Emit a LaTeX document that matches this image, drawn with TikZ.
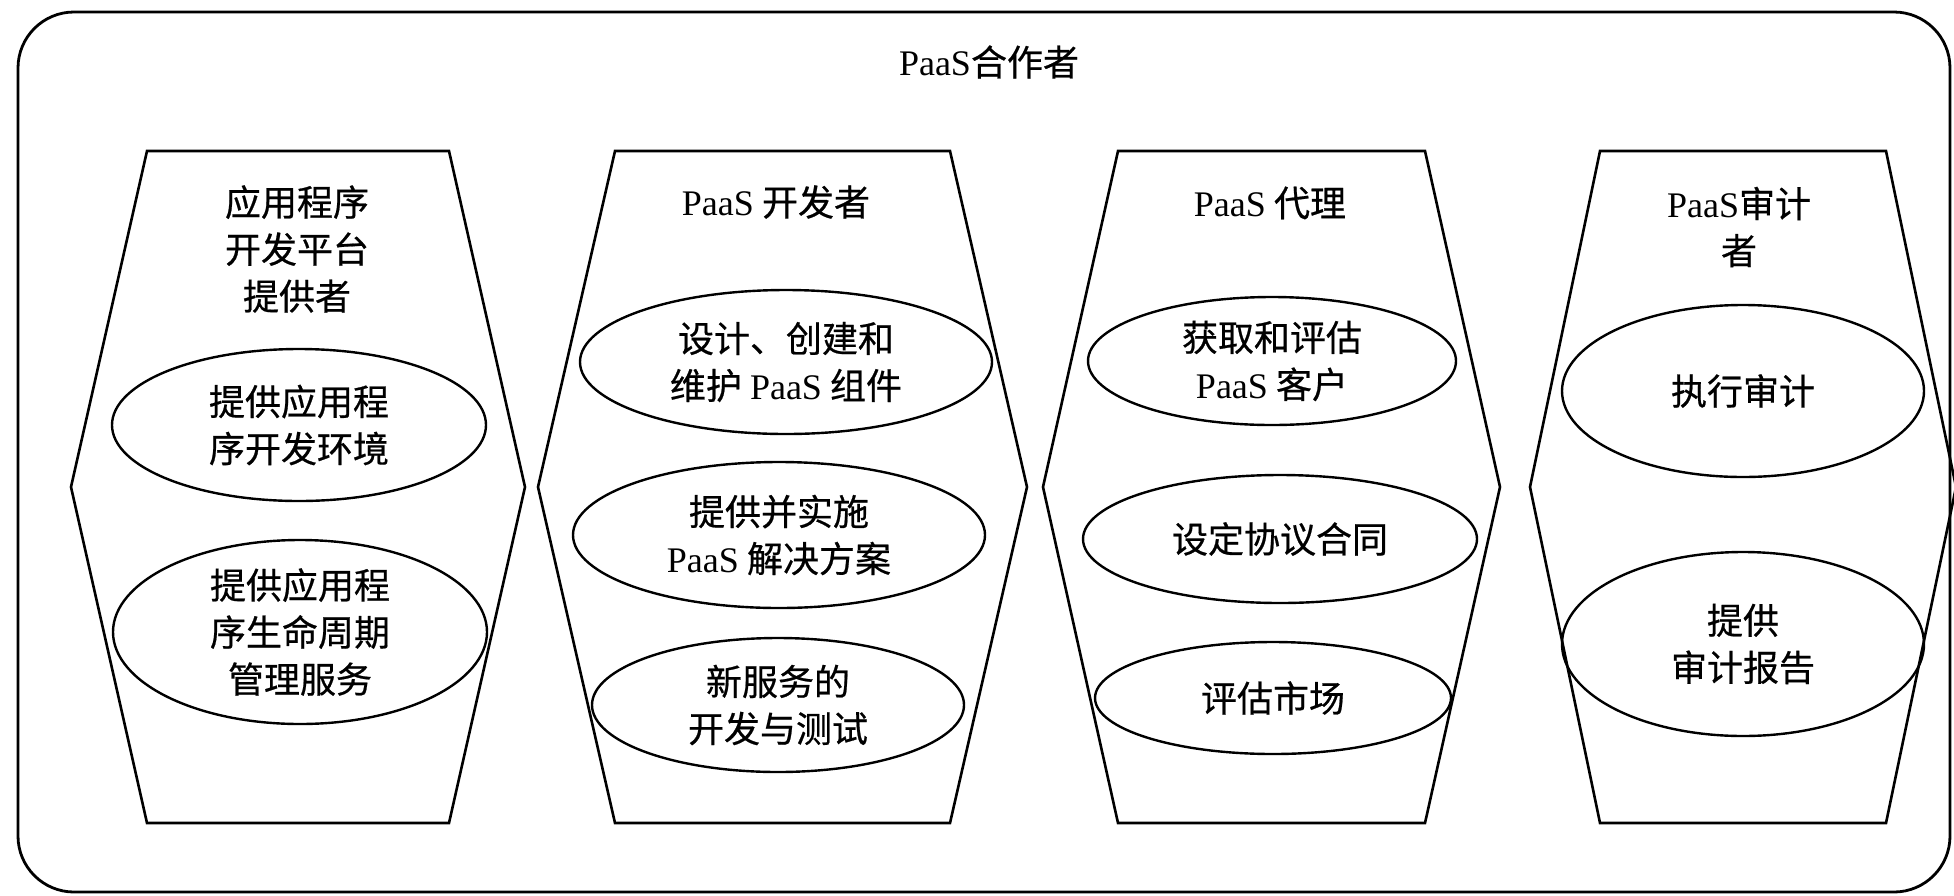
\documentclass[tikz,border=0pt]{standalone}
\usepackage{fontspec}
\setmainfont{Liberation Serif}
\newfontfamily\cjk{Noto Sans CJK SC}[FakeBold=0.6]
\usetikzlibrary{shapes.geometric}
\newcommand\lat[1]{{\rmfamily #1}}
\tikzset{
  frame/.style={draw=black, line width=1.4pt, rounded corners=28pt},
  hexa/.style={draw=black, line width=1.3pt, line join=miter},
  txt/.style={align=center, inner sep=0pt, font=\fontsize{18}{23.5}\selectfont\cjk},
  oval/.style={ellipse, draw=black, line width=1.2pt, inner sep=0pt, align=center,
               font=\fontsize{18}{23.5}\selectfont\cjk},
}
\begin{document}
\begin{tikzpicture}[x=0.5pt, y=-0.5pt]
\useasboundingbox (0,0) rectangle (1954,895);
% outer frame
\draw[frame] (18,12) rectangle (1950,892);
\node[txt] (title) at (989,62) {\lat{PaaS}合作者};

% hexagons
\draw[hexa] (147,151) -- (449,151) -- (525,487) -- (449,823) -- (147,823) -- (71,487) -- cycle;
\draw[hexa] (615,151) -- (950,151) -- (1027,487) -- (950,823) -- (615,823) -- (538,487) -- cycle;
\draw[hexa] (1118,151) -- (1425,151) -- (1500,487) -- (1425,823) -- (1118,823) -- (1043,487) -- cycle;
\draw[hexa] (1600,151) -- (1886,151) -- (1956,487) -- (1886,823) -- (1600,823) -- (1530,487) -- cycle;

% headers
\node[txt] (h1) at (297,249) {应用程序\\开发平台\\提供者};
\node[txt] (h2) at (776,202) {\lat{PaaS} 开发者};
\node[txt] (h3) at (1270,203) {\lat{PaaS} 代理};
\node[txt] (h4) at (1739,227) {\lat{PaaS}审计\\者};

% ellipses column 1
\node[oval, minimum width=187pt, minimum height=76pt] (e1a) at (299,425) {提供应用程\\序开发环境};
\node[oval, minimum width=187pt, minimum height=92pt] (e1b) at (300,632) {提供应用程\\序生命周期\\管理服务};
% column 2
\node[oval, minimum width=206pt, minimum height=72pt] (e2a) at (786,362) {设计、创建和\\维护 \lat{PaaS} 组件};
\node[oval, minimum width=206pt, minimum height=73pt] (e2b) at (779,535) {提供并实施\\\lat{PaaS} 解决方案};
\node[oval, minimum width=186pt, minimum height=67pt] (e2c) at (778,705) {新服务的\\开发与测试};
% column 3
\node[oval, minimum width=184pt, minimum height=64pt] (e3a) at (1272,361) {获取和评估\\\lat{PaaS} 客户};
\node[oval, minimum width=197pt, minimum height=64pt] (e3b) at (1280,539) {设定协议合同};
\node[oval, minimum width=178pt, minimum height=56pt] (e3c) at (1273,698) {评估市场};
% column 4
\node[oval, minimum width=181pt, minimum height=86pt] (e4a) at (1743,391) {执行审计};
\node[oval, minimum width=181pt, minimum height=92pt] (e4b) at (1743,644) {提供\\审计报告};
\end{tikzpicture}
\end{document}
